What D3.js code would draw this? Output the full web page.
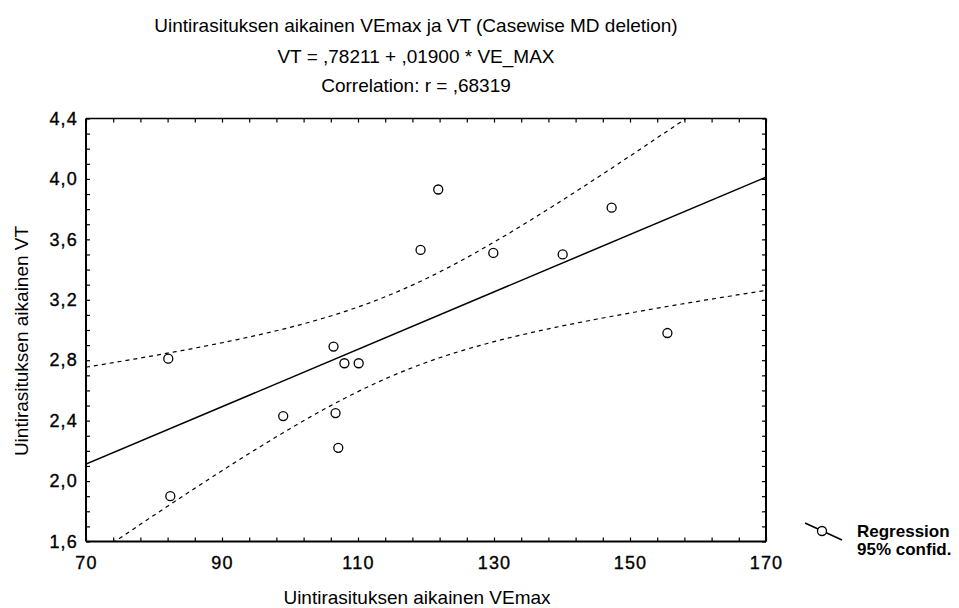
<!DOCTYPE html>
<html>
<head>
<meta charset="utf-8">
<script src="https://cdn.jsdelivr.net/npm/d3@7"></script>
<style>
    body { margin: 0; background: #fff; }
    svg { display: block; font-family: "Liberation Sans", Arial, sans-serif; }
</style>
</head>
<body>
<svg id="chart"></svg>
<script>
// --- data ---
const titleLines = [
    'Uintirasituksen aikainen VEmax ja VT (Casewise MD deletion)',
    'VT = ,78211 + ,01900 * VE_MAX',
    'Correlation: r = ,68319'
];
const xTitle = 'Uintirasituksen aikainen VEmax';
const yTitle = 'Uintirasituksen aikainen VT';
const legendLabels = ['Regression', '95% confid.'];

const veMax = [82.1, 82.4, 99.0, 106.4, 106.7, 107.1, 108.0, 110.1, 119.2, 121.8, 129.9, 140.1, 147.3, 155.5];
const vt    = [2.81, 1.90, 2.43, 2.89, 2.45, 2.22, 2.78, 2.78, 3.53, 3.93, 3.51, 3.50, 3.81, 2.98];

const intercept = 0.78211;
const slope = 0.01900;
const tCrit = 2.1788; // t(0.975, df = 12)

const xDomain = [70, 170];
const yDomain = [1.6, 4.4];
const xMajor = [70, 90, 110, 130, 150, 170];
const yMajor = [1.6, 2.0, 2.4, 2.8, 3.2, 3.6, 4.0, 4.4];
const xMinorStep = 4;
const yMinorStep = 0.1;

// --- layout ---
const width = 959, height = 608;
const margin = { top: 118.5, right: 193, bottom: 66.5, left: 86 };
const innerW = width - margin.left - margin.right;
const innerH = height - margin.top - margin.bottom;

const svg = d3.select('#chart')
    .attr('width', width)
    .attr('height', height);

const xScale = d3.scaleLinear().domain(xDomain).range([0, innerW]);
const yScale = d3.scaleLinear().domain(yDomain).range([innerH, 0]);

const chart = svg.append('g')
    .attr('transform', `translate(${margin.left},${margin.top})`);

// titles
svg.append('g')
    .selectAll('text')
    .data(titleLines)
    .join('text')
    .attr('x', 416)
    .attr('y', (d, i) => [31.5, 63, 92][i])
    .attr('text-anchor', 'middle')
    .attr('font-size', 19)
    .text(d => d);

// axes (inward ticks on all four sides)
const xTicks = d3.range(xDomain[0], xDomain[1] + 0.01, xMinorStep);
const yTicks = d3.range(0, 29).map(i => +(yDomain[0] + i * yMinorStep).toFixed(1));
const commaFmt = d => d3.format('.1f')(d).replace('.', ',');
const isMajorY = d => yMajor.some(m => Math.abs(m - d) < 1e-6);

const xAxis = d3.axisBottom(xScale)
    .tickValues(xTicks)
    .tickSize(-4)
    .tickPadding(15)
    .tickFormat(d => xMajor.includes(d) ? d : '');
const yAxis = d3.axisLeft(yScale)
    .tickValues(yTicks)
    .tickSize(-4)
    .tickPadding(8)
    .tickFormat(d => isMajorY(d) ? commaFmt(d) : '');

const styleAxis = g => {
    g.select('.domain').remove();
    g.selectAll('.tick line').attr('stroke', '#000').attr('stroke-width', 1.2);
    g.selectAll('.tick text')
        .attr('fill', '#000')
        .attr('stroke', '#000')
        .attr('stroke-width', 0.35)
        .attr('font-size', 18)
        .attr('letter-spacing', 1.2)
        .attr('font-family', '"Liberation Sans", Arial, sans-serif');
};

chart.append('g')
    .attr('transform', `translate(0,${innerH})`)
    .call(xAxis)
    .call(styleAxis);
chart.append('g')
    .call(yAxis)
    .call(styleAxis);
chart.append('g')
    .call(d3.axisTop(xScale).tickValues(xTicks).tickSize(-4).tickFormat(''))
    .call(styleAxis);
chart.append('g')
    .attr('transform', `translate(${innerW},0)`)
    .call(d3.axisRight(yScale).tickValues(yTicks).tickSize(-4).tickFormat(''))
    .call(styleAxis);

// axis titles
svg.append('text')
    .attr('x', 417)
    .attr('y', 604)
    .attr('text-anchor', 'middle')
    .attr('font-size', 19)
    .text(xTitle);
svg.append('text')
    .attr('transform', 'translate(28,341) rotate(-90)')
    .attr('text-anchor', 'middle')
    .attr('font-size', 19)
    .text(yTitle);

// regression line and 95% confidence band
const n = veMax.length;
const xMean = d3.mean(veMax);
const sxx = d3.sum(veMax, v => (v - xMean) ** 2);
const sse = d3.sum(veMax, (v, i) => (vt[i] - (intercept + slope * v)) ** 2);
const s = Math.sqrt(sse / (n - 2));
const fit = v => intercept + slope * v;
const halfWidth = v => tCrit * s * Math.sqrt(1 / n + (v - xMean) ** 2 / sxx);

const curveX = d3.range(xDomain[0], xDomain[1] + 0.01, 1);

chart.append('clipPath')
    .attr('id', 'plot-clip')
    .append('rect')
    .attr('width', innerW)
    .attr('height', innerH);

const plotG = chart.append('g').attr('clip-path', 'url(#plot-clip)');

const line = d3.line()
    .x(d => xScale(d[0]))
    .y(d => yScale(d[1]));

plotG.append('path')
    .datum(xDomain.map(v => [v, fit(v)]))
    .attr('d', line)
    .attr('fill', 'none')
    .attr('stroke', '#000')
    .attr('stroke-width', 1.5);

[1, -1].forEach(sign => {
    plotG.append('path')
        .datum(curveX.map(v => [v, fit(v) + sign * halfWidth(v)]))
        .attr('d', line.curve(d3.curveMonotoneX))
        .attr('fill', 'none')
        .attr('stroke', '#000')
        .attr('stroke-width', 1.2)
        .attr('stroke-dasharray', '4,4');
});

// points
chart.append('g')
    .selectAll('circle')
    .data(veMax.map((v, i) => [v, vt[i]]))
    .join('circle')
    .attr('cx', d => xScale(d[0]))
    .attr('cy', d => yScale(d[1]))
    .attr('r', 4.5)
    .attr('fill', '#fff')
    .attr('stroke', '#000')
    .attr('stroke-width', 1.3);

// frame
const frame = chart.append('g').attr('stroke', '#000').attr('fill', 'none');
frame.append('line').attr('x1', 0).attr('x2', innerW).attr('y1', 0).attr('y2', 0).attr('stroke-width', 1.5);
frame.append('line').attr('x1', 0).attr('x2', innerW).attr('y1', innerH).attr('y2', innerH).attr('stroke-width', 2);
frame.append('line').attr('x1', 0).attr('x2', 0).attr('y1', 0).attr('y2', innerH).attr('stroke-width', 2);
frame.append('line').attr('x1', innerW).attr('x2', innerW).attr('y1', 0).attr('y2', innerH).attr('stroke-width', 2);

// legend
const legend = svg.append('g').attr('transform', 'translate(805,523)');
legend.append('line')
    .attr('x1', 0).attr('y1', 0)
    .attr('x2', 37).attr('y2', 17)
    .attr('stroke', '#000')
    .attr('stroke-width', 1.5);
legend.append('circle')
    .attr('cx', 17).attr('cy', 8)
    .attr('r', 4.5)
    .attr('fill', '#fff')
    .attr('stroke', '#000')
    .attr('stroke-width', 1.3);
legend.selectAll('text')
    .data(legendLabels)
    .join('text')
    .attr('x', 52)
    .attr('y', (d, i) => 14 + i * 18)
    .attr('font-size', 17)
    .attr('font-weight', 'bold')
    .text(d => d);
</script>
</body>
</html>
